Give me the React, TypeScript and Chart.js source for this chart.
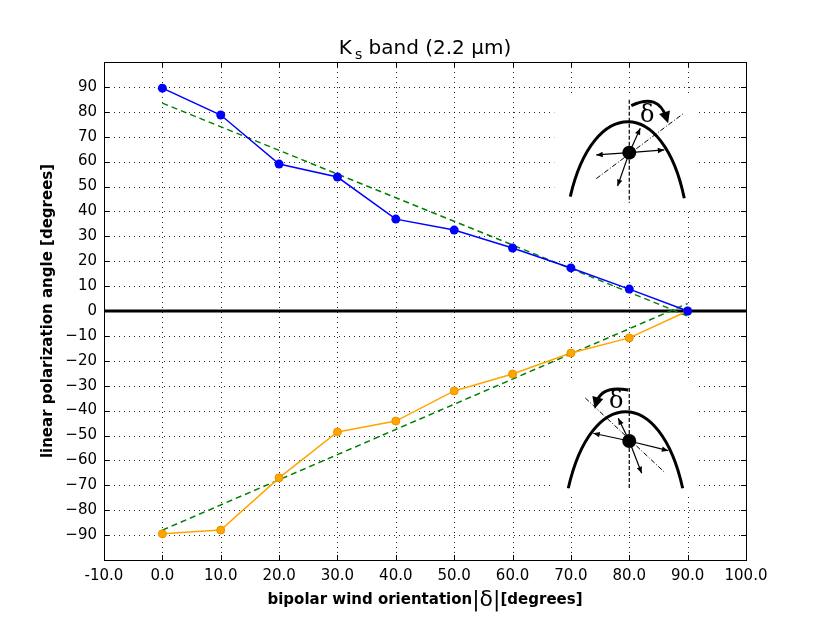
import React, { useEffect, useRef } from 'react';
import { Chart, registerables } from 'chart.js';

Chart.register(...registerables);

// ---- data ----
const orientation = [0, 10, 20, 30, 40, 50, 60, 70, 80, 90];
const northAngles = [89.5, 78.7, 59, 53.8, 36.9, 32.5, 25.3, 17.3, 8.8, 0];
const southAngles = [-89.5, -88, -67, -48.6, -44.2, -32.1, -25.3, -16.9, -10.8, 0];
const fitOrientation = [0, 90];
const northFit = [83.5, -2];
const southFit = [-88, 3];

const X_MIN = -10;
const X_MAX = 100;
const Y_MIN = -100;
const Y_MAX = 100;
const STEP = 10;

const FONT = '"DejaVu Sans", "Liberation Sans", sans-serif';

type Pt = [number, number];

function toXY(xs: number[], ys: number[]) {
  return xs.map((x, i) => ({ x, y: ys[i] }));
}

function drawArrow(ctx: CanvasRenderingContext2D, ox: number, oy: number, tx: number, ty: number, head: number) {
  const ang = Math.atan2(ty - oy, tx - ox);
  ctx.beginPath();
  ctx.moveTo(ox, oy);
  ctx.lineTo(tx, ty);
  ctx.stroke();
  ctx.beginPath();
  ctx.moveTo(tx, ty);
  ctx.lineTo(tx - head * Math.cos(ang - 0.4), ty - head * Math.sin(ang - 0.4));
  ctx.lineTo(tx - head * Math.cos(ang + 0.4), ty - head * Math.sin(ang + 0.4));
  ctx.closePath();
  ctx.fill();
}

interface SketchDef {
  anchorX: number;
  anchorY: number;
  box: [number, number, number, number];
  vline: [number, number];
  arch: [Pt, Pt, Pt, Pt];
  axis: [Pt, Pt];
  arrows: Pt[];
  curve: [Pt, Pt, Pt];
  delta: Pt;
}

const sketches: SketchDef[] = [
  {
    anchorX: 80,
    anchorY: 63.6,
    box: [-75, -57, 67, 57],
    vline: [-53, 50],
    arch: [[-59, 44], [-36, -56], [34, -56], [55, 45.6]],
    axis: [[-33, 26], [54, -39]],
    arrows: [[-33, 2.3], [35, -2.7], [11, -24.4], [-11.7, 33.3]],
    curve: [[2, -47], [29, -60], [37, -35]],
    delta: [18, -37],
  },
  {
    anchorX: 80,
    anchorY: -52.2,
    box: [-79, -61, 68, 56],
    vline: [-53, 49],
    arch: [[-61, 47.3], [-38, -54.8], [31, -54.8], [53.4, 47.3]],
    axis: [[-44, -43], [35, 31]],
    arrows: [[-36, -7.7], [39, 9.7], [-11, -22.7], [12.4, 32.3]],
    curve: [[-1, -51], [-28, -56], [-33, -38]],
    delta: [-13, -39],
  },
];

const decorPlugin = {
  id: 'decor',
  beforeDatasetsDraw(chart: any) {
    const ctx: CanvasRenderingContext2D = chart.ctx;
    const { left, right, top, bottom } = chart.chartArea;
    const xs = chart.scales.x;
    const ys = chart.scales.y;
    ctx.save();
    // dotted grid
    ctx.strokeStyle = 'rgba(0,0,0,0.85)';
    ctx.lineWidth = 1;
    ctx.setLineDash([1, 4]);
    for (let v = X_MIN + STEP; v < X_MAX; v += STEP) {
      const px = Math.round(xs.getPixelForValue(v)) + 0.5;
      ctx.beginPath();
      ctx.moveTo(px, top);
      ctx.lineTo(px, bottom);
      ctx.stroke();
    }
    for (let v = Y_MIN + STEP; v < Y_MAX; v += STEP) {
      const py = Math.round(ys.getPixelForValue(v)) + 0.5;
      ctx.beginPath();
      ctx.moveTo(left, py);
      ctx.lineTo(right, py);
      ctx.stroke();
    }
    ctx.setLineDash([]);
    // zero line
    const zy = ys.getPixelForValue(0);
    ctx.strokeStyle = '#000';
    ctx.lineWidth = 3;
    ctx.beginPath();
    ctx.moveTo(left, zy);
    ctx.lineTo(right, zy);
    ctx.stroke();
    // white boxes for sketches
    ctx.fillStyle = '#fff';
    for (const s of sketches) {
      const ax = xs.getPixelForValue(s.anchorX);
      const ay = ys.getPixelForValue(s.anchorY);
      ctx.fillRect(ax + s.box[0], ay + s.box[1], s.box[2] - s.box[0], s.box[3] - s.box[1]);
    }
    ctx.restore();
  },
  afterDatasetsDraw(chart: any) {
    const ctx: CanvasRenderingContext2D = chart.ctx;
    const { left, right, top, bottom } = chart.chartArea;
    const xs = chart.scales.x;
    const ys = chart.scales.y;
    ctx.save();
    // sketches
    for (const s of sketches) {
      const ax = xs.getPixelForValue(s.anchorX);
      const ay = ys.getPixelForValue(s.anchorY);
      ctx.save();
      ctx.translate(ax, ay);
      ctx.strokeStyle = '#000';
      ctx.fillStyle = '#000';
      // vertical dashed line
      ctx.lineWidth = 1.2;
      ctx.setLineDash([4, 2]);
      ctx.beginPath();
      ctx.moveTo(0, s.vline[0]);
      ctx.lineTo(0, s.vline[1]);
      ctx.stroke();
      // dash-dot axis
      ctx.lineWidth = 1;
      ctx.setLineDash([5, 2, 1, 2]);
      ctx.beginPath();
      ctx.moveTo(s.axis[0][0], s.axis[0][1]);
      ctx.lineTo(s.axis[1][0], s.axis[1][1]);
      ctx.stroke();
      ctx.setLineDash([]);
      // arch
      ctx.lineWidth = 3;
      ctx.beginPath();
      ctx.moveTo(s.arch[0][0], s.arch[0][1]);
      ctx.bezierCurveTo(s.arch[1][0], s.arch[1][1], s.arch[2][0], s.arch[2][1], s.arch[3][0], s.arch[3][1]);
      ctx.stroke();
      // arrows
      ctx.lineWidth = 1.2;
      for (const a of s.arrows) {
        drawArrow(ctx, 0, 0, a[0], a[1], 7);
      }
      // central dot
      ctx.beginPath();
      ctx.arc(0, 0, 7, 0, Math.PI * 2);
      ctx.fill();
      // curved arrow
      const [c0, c1, c2] = s.curve;
      ctx.lineWidth = 3;
      ctx.beginPath();
      ctx.moveTo(c0[0], c0[1]);
      ctx.quadraticCurveTo(c1[0], c1[1], c2[0], c2[1]);
      ctx.stroke();
      const ang = Math.atan2(c2[1] - c1[1], c2[0] - c1[0]);
      const tipX = c2[0] + 6 * Math.cos(ang);
      const tipY = c2[1] + 6 * Math.sin(ang);
      ctx.beginPath();
      ctx.moveTo(tipX, tipY);
      ctx.lineTo(tipX - 13 * Math.cos(ang - 0.45), tipY - 13 * Math.sin(ang - 0.45));
      ctx.lineTo(tipX - 13 * Math.cos(ang + 0.45), tipY - 13 * Math.sin(ang + 0.45));
      ctx.closePath();
      ctx.fill();
      // delta
      ctx.font = '24px "DejaVu Serif", serif';
      ctx.textAlign = 'center';
      ctx.textBaseline = 'middle';
      ctx.fillText('δ', s.delta[0], s.delta[1]);
      ctx.restore();
    }
    // frame
    ctx.strokeStyle = '#000';
    ctx.lineWidth = 1;
    ctx.strokeRect(Math.round(left) + 0.5, Math.round(top) + 0.5, Math.round(right - left), Math.round(bottom - top));
    // inner ticks
    const tl = 5;
    ctx.beginPath();
    for (let v = X_MIN + STEP; v < X_MAX; v += STEP) {
      const px = Math.round(xs.getPixelForValue(v)) + 0.5;
      ctx.moveTo(px, bottom);
      ctx.lineTo(px, bottom - tl);
      ctx.moveTo(px, top);
      ctx.lineTo(px, top + tl);
    }
    for (let v = Y_MIN + STEP; v < Y_MAX; v += STEP) {
      const py = Math.round(ys.getPixelForValue(v)) + 0.5;
      ctx.moveTo(left, py);
      ctx.lineTo(left + tl, py);
      ctx.moveTo(right, py);
      ctx.lineTo(right - tl, py);
    }
    ctx.stroke();
    ctx.restore();
  },
  afterDraw(chart: any) {
    const ctx: CanvasRenderingContext2D = chart.ctx;
    const { left, right, top, bottom } = chart.chartArea;
    const cx = (left + right) / 2;
    ctx.save();
    ctx.fillStyle = '#000';
    ctx.textBaseline = 'alphabetic';
    ctx.textAlign = 'left';
    // title
    const fBig = `20px ${FONT}`;
    const fSub = `14px ${FONT}`;
    ctx.font = fBig;
    const wK = ctx.measureText('K').width;
    const rest = ' band (2.2 µm)';
    const wRest = ctx.measureText(rest).width;
    ctx.font = fSub;
    const wS = ctx.measureText('s').width;
    const gap = 3;
    const total = wK + gap + wS + wRest;
    let x = cx - total / 2;
    const by = top - 8;
    ctx.font = fBig;
    ctx.fillText('K', x, by);
    x += wK + gap;
    ctx.font = fSub;
    ctx.fillText('s', x, by + 5);
    x += wS;
    ctx.font = fBig;
    ctx.fillText(rest, x, by);
    // x label
    const fBold = `bold 15px ${FONT}`;
    const fMath = `22px ${FONT}`;
    const p1 = 'bipolar wind orientation';
    const p2 = '|δ|';
    const p3 = '[degrees]';
    ctx.font = fBold;
    const w1 = ctx.measureText(p1).width;
    const w3 = ctx.measureText(p3).width;
    ctx.font = fMath;
    const w2 = ctx.measureText(p2).width;
    let lx = cx - (w1 + w2 + w3) / 2;
    const ly = bottom + 44;
    ctx.font = fBold;
    ctx.fillText(p1, lx, ly);
    lx += w1;
    ctx.font = fMath;
    ctx.fillText(p2, lx, ly + 2);
    lx += w2;
    ctx.font = fBold;
    ctx.fillText(p3, lx, ly);
    // y label
    ctx.save();
    ctx.translate(48, (top + bottom) / 2);
    ctx.rotate(-Math.PI / 2);
    ctx.font = fBold;
    ctx.textAlign = 'center';
    ctx.textBaseline = 'middle';
    ctx.fillText('linear polarization angle [degrees]', 0, 0);
    ctx.restore();
    ctx.restore();
  },
};

export default function App() {
  const canvasRef = useRef<HTMLCanvasElement | null>(null);

  useEffect(() => {
    document.body.style.margin = '0';
    const canvas = canvasRef.current;
    if (!canvas) return;
    const chart = new Chart(canvas, {
      type: 'line',
      data: {
        datasets: [
          {
            label: 'north',
            data: toXY(orientation, northAngles),
            borderColor: '#0000ff',
            backgroundColor: '#0000ff',
            borderWidth: 1.5,
            pointRadius: 4.5,
            pointBorderWidth: 0,
            pointBackgroundColor: '#0000ff',
            order: 0,
          },
          {
            label: 'south',
            data: toXY(orientation, southAngles),
            borderColor: '#ffa500',
            backgroundColor: '#ffa500',
            borderWidth: 1.5,
            pointRadius: 4,
            pointBorderWidth: 1,
            pointBorderColor: '#e69400',
            pointBackgroundColor: '#ffa500',
            order: 1,
          },
          {
            label: 'north fit',
            data: toXY(fitOrientation, northFit),
            borderColor: '#008000',
            borderWidth: 1.5,
            borderDash: [6, 4],
            pointRadius: 0,
            order: 2,
          },
          {
            label: 'south fit',
            data: toXY(fitOrientation, southFit),
            borderColor: '#008000',
            borderWidth: 1.5,
            borderDash: [6, 4],
            pointRadius: 0,
            order: 2,
          },
        ],
      },
      options: {
        animation: false,
        responsive: false,
        maintainAspectRatio: false,
        layout: { padding: { top: 62, right: 84, left: 0, bottom: 0 } },
        plugins: {
          legend: { display: false },
          tooltip: { enabled: false },
          title: { display: false },
        },
        scales: {
          x: {
            type: 'linear',
            min: X_MIN,
            max: X_MAX,
            grid: { display: false, drawTicks: false, tickLength: 0 },
            border: { display: false },
            ticks: {
              stepSize: STEP,
              autoSkip: false,
              maxRotation: 0,
              minRotation: 0,
              padding: 7,
              color: '#000',
              font: { family: FONT, size: 15 },
              callback: (v: any) => Number(v).toFixed(1),
            },
            afterFit: (s: any) => {
              s.height = 63;
            },
          },
          y: {
            type: 'linear',
            min: Y_MIN,
            max: Y_MAX,
            grid: { display: false, drawTicks: false, tickLength: 0 },
            border: { display: false },
            ticks: {
              stepSize: STEP,
              autoSkip: false,
              padding: 7,
              color: '#000',
              font: { family: FONT, size: 15 },
              callback: (v: any) => {
                const n = Number(v);
                if (n <= Y_MIN || n >= Y_MAX) return '';
                return n < 0 ? '\u2212' + Math.abs(n) : String(n);
              },
            },
            afterFit: (s: any) => {
              s.width = 104;
            },
          },
        },
      },
      plugins: [decorPlugin],
    } as any);
    return () => chart.destroy();
  }, []);

  return (
    <div style={{ position: 'absolute', left: 0, top: 0, width: 830, height: 623, background: '#fff' }}>
      <canvas ref={canvasRef} width={830} height={623} style={{ display: 'block', width: 830, height: 623 }} />
    </div>
  );
}
